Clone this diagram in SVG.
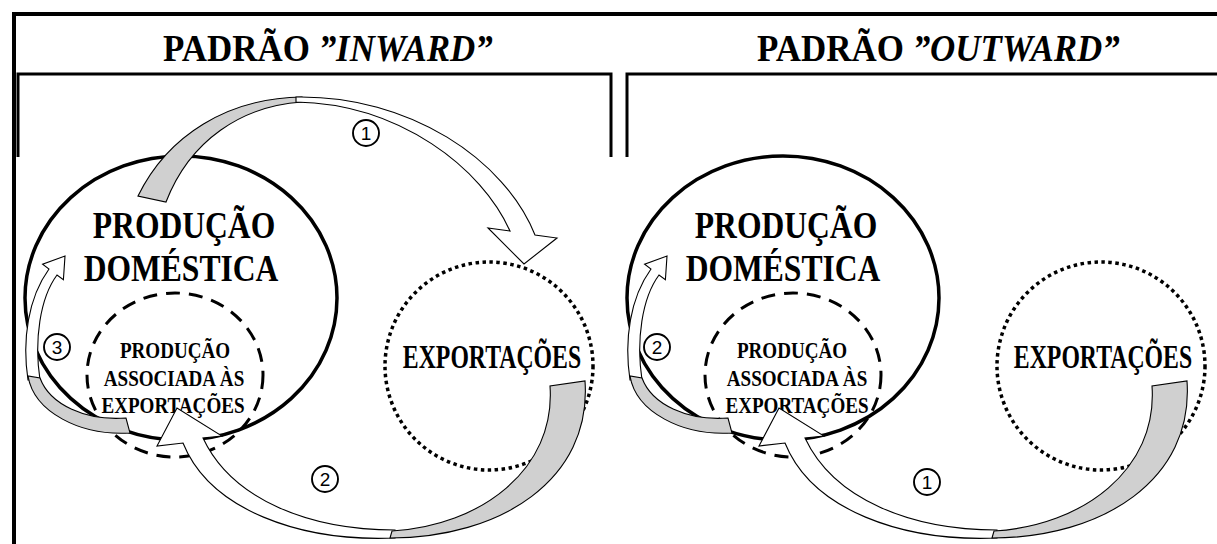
<svg xmlns="http://www.w3.org/2000/svg" width="1217" height="544" viewBox="0 0 1217 544">
<style>
.frame{fill:none;stroke:#000;stroke-width:4}
.box{fill:none;stroke:#000;stroke-width:3}
.big{fill:none;stroke:#000;stroke-width:3.5}
.dash{fill:none;stroke:#000;stroke-width:3;stroke-dasharray:14 9}
.dot{fill:none;stroke:#000;stroke-width:3.5;stroke-dasharray:3.5 3.5}
.serif{font-family:"Liberation Serif","Times New Roman",serif;font-weight:bold;fill:#000}
.hd{font-size:38px}
.it{font-style:italic}
.bt{font-size:39px;text-anchor:middle}
.st{font-size:23px;text-anchor:middle}
.et{font-size:33px;text-anchor:middle}
.num circle{fill:#fff;stroke:#000;stroke-width:1.9}
.num text{font-family:"Liberation Sans",Arial,sans-serif;font-size:19px;fill:#000;text-anchor:middle}
.w{fill:#fff;stroke:#000;stroke-width:1.1;stroke-linejoin:miter}
.g{fill:#d0d0d0;stroke:#000;stroke-width:1.1}
</style>
<defs>
<g id="arrowBottom">
<path class="w" d="M183,443 C210,510 300,542 395,538 L395,530 C310,530 232,500 203,438 L222,436 L177,408 L157,446 Z"/>
<path class="g" d="M390,538 C500,538 592,480 585,381 L550,386 C556,470 480,526 392,531 Z"/>
</g>
<g id="arrowSmall">
<path class="w" d="M28,380 C22,340 28,298 49,269 L42.6,264.2 L65,256 L63.4,279.8 L57,275 C40,298 34,340 40,380 Z"/>
<path class="g" d="M28,376 C34,412 80,436 130,433 L126,418 C86,421 50,405 40,378 Z"/>
</g>
</defs>
<rect width="1217" height="544" fill="#fff"/>
<g id="frame">
<path class="frame" d="M14,546 L14,14 L1220,14"/>
</g>
<g id="panel-inward">
<path class="box" d="M18,157 L18,74 L611,74 L611,157"/>
<text class="serif hd" transform="translate(163,61) scale(0.92,1)">PADRÃO <tspan class="it">”INWARD”</tspan></text>
</g>
<g id="panel-outward">
<path class="box" d="M627,157 L627,74 L1220,74"/>
<text class="serif hd" transform="translate(757,61) scale(0.92,1)">PADRÃO <tspan class="it">”OUTWARD”</tspan></text>
</g>
<g id="node-producao-domestica-1">
<ellipse class="big" cx="181" cy="298" rx="156" ry="142"/>
<text class="serif bt" transform="translate(184,238) scale(0.81,1)">PRODUÇÃO</text>
<text class="serif bt" transform="translate(181,281) scale(0.81,1)">DOMÉSTICA</text>
</g>
<g id="node-producao-associada-1">
<ellipse class="dash" cx="175" cy="375" rx="88" ry="82"/>
<text class="serif st" transform="translate(175,358) scale(0.83,1)">PRODUÇÃO</text>
<text class="serif st" transform="translate(174,386) scale(0.83,1)">ASSOCIADA ÀS</text>
<text class="serif st" transform="translate(173,413) scale(0.83,1)">EXPORTAÇÕES</text>
</g>
<g id="node-exportacoes-1">
<ellipse class="dot" cx="489" cy="366" rx="104" ry="104"/>
<text class="serif et" transform="translate(492,368) scale(0.72,1)">EXPORTAÇÕES</text>
</g>
<g id="node-producao-domestica-2">
<ellipse class="big" cx="783" cy="298" rx="156" ry="142"/>
<text class="serif bt" transform="translate(786,238) scale(0.81,1)">PRODUÇÃO</text>
<text class="serif bt" transform="translate(783,281) scale(0.81,1)">DOMÉSTICA</text>
</g>
<g id="node-producao-associada-2">
<ellipse class="dash" cx="793" cy="375" rx="88" ry="82"/>
<text class="serif st" transform="translate(792,358) scale(0.83,1)">PRODUÇÃO</text>
<text class="serif st" transform="translate(797,386) scale(0.83,1)">ASSOCIADA ÀS</text>
<text class="serif st" transform="translate(797,413) scale(0.83,1)">EXPORTAÇÕES</text>
</g>
<g id="node-exportacoes-2">
<ellipse class="dot" cx="1101" cy="366" rx="104" ry="104"/>
<text class="serif et" transform="translate(1103,368) scale(0.72,1)">EXPORTAÇÕES</text>
</g>
<g id="connectors">
<g id="arrow-inward-1">
<path class="g" d="M138,196 C168,135 228,98 302,97 L302,102 C242,106 190,140 166,202 Z"/>
<path class="w" d="M296,97 C410,95 505,160 535,235 L557,238 L524,264 L488,228 L510,231 C482,168 400,104 296,102 Z"/>
</g>
<use id="arrow-inward-2" href="#arrowBottom"/>
<use id="arrow-inward-3" href="#arrowSmall"/>
<use id="arrow-outward-1" href="#arrowBottom" transform="translate(602,0)"/>
<use id="arrow-outward-2" href="#arrowSmall" transform="translate(602,0)"/>
</g>
<g id="labels">
<g class="num"><circle cx="366" cy="133" r="13"/><text x="366" y="140">1</text></g>
<g class="num"><circle cx="325" cy="479" r="13"/><text x="325" y="486">2</text></g>
<g class="num"><circle cx="57" cy="347" r="13"/><text x="57" y="354">3</text></g>
<g class="num"><circle cx="657" cy="347" r="13"/><text x="657" y="354">2</text></g>
<g class="num"><circle cx="927" cy="482" r="13"/><text x="927" y="489">1</text></g>
</g>
</svg>
